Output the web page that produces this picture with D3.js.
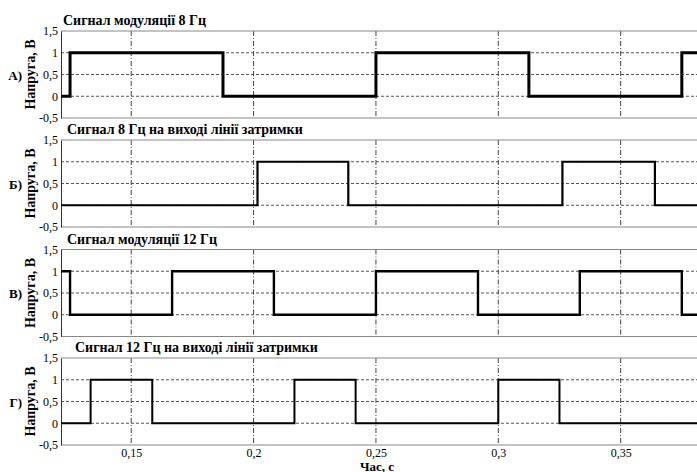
<!DOCTYPE html>
<html>
<head>
<meta charset="utf-8">
<script src="https://cdn.jsdelivr.net/npm/d3@7"></script>
<style>
  body { margin: 0; background: #fff; }
  svg { display: block; }
  svg text { font-family: "Liberation Serif", "DejaVu Serif", "Times New Roman", Times, serif; }
</style>
</head>
<body>
<svg id="chart"></svg>
<script>
// values
const yTicks = [-0.5, 0, 0.5, 1, 1.5];
const yTickLabels = ['-0,5', '0', '0,5', '1', '1,5'];
const xTicks = [0.15, 0.2, 0.25, 0.3, 0.35];
const xTickLabels = ['0,15', '0,2', '0,25', '0,3', '0,35'];
const titles = [
  'Сигнал модуляції 8 Гц',
  'Сигнал 8 Гц на виході лінії затримки',
  'Сигнал модуляції 12 Гц',
  'Сигнал 12 Гц на виході лінії затримки'
];
const letters = ['А)', 'Б)', 'В)', 'Г)'];

// step signals: switching times and level after each switch
const mod8Times = [0.12, 0.125, 0.1875, 0.25, 0.3125, 0.375, 0.40];
const mod8Values = [0, 1, 0, 1, 0, 1, 1];
const delay8Times = [0.12, 0.2016, 0.2387, 0.3262, 0.364, 0.40];
const delay8Values = [0, 1, 0, 1, 0, 0];
const mod12Times = [0.12, 0.125, 0.1667, 0.2083, 0.25, 0.2917, 0.3333, 0.375, 0.40];
const mod12Values = [1, 0, 1, 0, 1, 0, 1, 0, 0];
const delay12Times = [0.12, 0.1334, 0.1586, 0.2167, 0.2417, 0.3, 0.325, 0.40];
const delay12Values = [0, 1, 0, 1, 0, 1, 0, 0];

const series = [
  d3.zip(mod8Times, mod8Values),
  d3.zip(delay8Times, delay8Values),
  d3.zip(mod12Times, mod12Values),
  d3.zip(delay12Times, delay12Values)
];

const width = 697;
const height = 472;
const left = 61;
const panelTops = [31, 140, 249.5, 358];
const panelH = 87;
const titleX = [63, 67, 67, 75];
const lineWidths = [3, 2.2, 2.4, 2];
const serif = '"Liberation Serif", "DejaVu Serif", serif';

const svg = d3.select('#chart').attr('width', width).attr('height', height);

const x = d3.scaleLinear().domain([0.1213, 0.4]).range([left, 743]);

svg.append('defs').append('clipPath').attr('id', 'clip')
  .append('rect').attr('x', left).attr('y', 0).attr('width', width - left).attr('height', height);

series.forEach((data, i) => {
  const top = panelTops[i];
  const y = d3.scaleLinear().domain([-0.5, 1.5]).range([top + panelH, top]);
  const g = svg.append('g');

  // horizontal grid
  g.selectAll('.hg')
    .data([0, 0.5, 1])
    .enter()
    .append('line')
    .attr('x1', left).attr('x2', width)
    .attr('y1', d => y(d)).attr('y2', d => y(d))
    .attr('stroke', '#555')
    .attr('stroke-width', 1)
    .attr('stroke-dasharray', '3,2');

  // vertical grid
  g.selectAll('.vg')
    .data(xTicks)
    .enter()
    .append('line')
    .attr('x1', d => x(d)).attr('x2', d => x(d))
    .attr('y1', top).attr('y2', top + panelH)
    .attr('stroke', '#444')
    .attr('stroke-width', 1)
    .attr('stroke-dasharray', '5,2,1,2');

  // frame
  g.append('line').attr('x1', left).attr('x2', width).attr('y1', top).attr('y2', top)
    .attr('stroke', '#888');
  g.append('line').attr('x1', left).attr('x2', width).attr('y1', top + panelH).attr('y2', top + panelH)
    .attr('stroke', '#888');

  // y axis
  const yAxis = d3.axisLeft(y)
    .tickValues(yTicks)
    .tickSize(0)
    .tickPadding(3)
    .tickFormat((d, k) => yTickLabels[k]);
  const ya = g.append('g').attr('transform', `translate(${left},0)`).call(yAxis);
  ya.attr('font-family', null);
  ya.select('.domain').attr('stroke', '#333');
  ya.selectAll('text')
    .attr('font-family', serif)
    .attr('font-size', 12)
    .attr('fill', '#000');

  // signal
  const line = d3.line()
    .x(d => x(d[0]))
    .y(d => y(d[1]))
    .curve(d3.curveStepAfter);
  g.append('path')
    .datum(data)
    .attr('clip-path', 'url(#clip)')
    .attr('d', line)
    .attr('fill', 'none')
    .attr('stroke', '#000')
    .attr('stroke-width', lineWidths[i]);

  // title
  g.append('text')
    .attr('x', titleX[i])
    .attr('y', top - 6)
    .attr('font-family', serif)
    .attr('font-size', 14)
    .attr('font-weight', 'bold')
    .text(titles[i]);

  // y label and letter
  g.append('text')
    .attr('transform', `translate(35,${y(0.5)}) rotate(-90)`)
    .attr('text-anchor', 'middle')
    .attr('font-family', serif)
    .attr('font-size', 14)
    .attr('font-weight', 'bold')
    .text('Напруга, В');
  g.append('text')
    .attr('x', 22)
    .attr('y', y(0.5) + 5)
    .attr('text-anchor', 'end')
    .attr('font-family', serif)
    .attr('font-size', 13)
    .attr('font-weight', 'bold')
    .text(letters[i]);

  if (i === series.length - 1) {
    const xAxis = d3.axisBottom(x)
      .tickValues(xTicks)
      .tickSize(0)
      .tickPadding(3)
      .tickFormat((d, k) => xTickLabels[k]);
    const xa = g.append('g').attr('transform', `translate(0,${top + panelH})`).call(xAxis);
    xa.attr('font-family', null);
    xa.select('.domain').remove();
    xa.selectAll('text')
      .attr('font-family', serif)
      .attr('font-size', 12)
      .attr('fill', '#000');
  }
});

svg.append('text')
  .attr('x', 377)
  .attr('y', 470.5)
  .attr('text-anchor', 'middle')
  .attr('font-family', serif)
  .attr('font-size', 13)
  .attr('font-weight', 'bold')
  .text('Час, с');
</script>
</body>
</html>
